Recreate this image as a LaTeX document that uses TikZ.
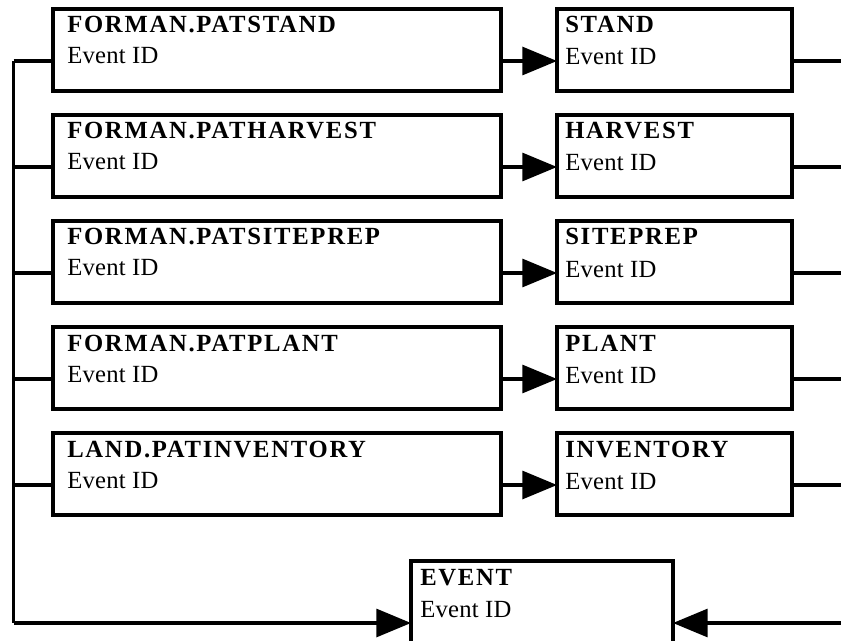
\documentclass[tikz,border=0pt]{standalone}
\usepackage{fontspec}
\setmainfont{Liberation Serif}
\usetikzlibrary{arrows.meta,calc}

\begin{document}
\begin{tikzpicture}[x=0.75pt,y=-0.75pt,
  box/.style={draw,line width=2.3pt,rectangle,inner sep=0pt,outer sep=0pt,anchor=north west},
  wire/.style={line width=2.3pt},
  arr/.style={wire,-{Triangle[length=26pt,width=21pt]}},
  ttl/.style={anchor=base west,inner sep=0pt,
    font={\fontsize{18.5}{21}\selectfont\bfseries\addfontfeatures{LetterSpace=7}}},
  sub/.style={anchor=base west,inner sep=0pt,
    font={\fontsize{18.5}{21}\selectfont\addfontfeatures{LetterSpace=1}}}]
\useasboundingbox (0,0) rectangle (841,641);
\clip (0,0) rectangle (841,641);

% source tables (left) and event tables (right), one row each
\foreach \i/\top/\lname/\rname in {
    1/9/FORMAN.PATSTAND/STAND,
    2/115/FORMAN.PATHARVEST/HARVEST,
    3/221/FORMAN.PATSITEPREP/SITEPREP,
    4/327/FORMAN.PATPLANT/PLANT,
    5/433/LAND.PATINVENTORY/INVENTORY} {
  \node[box,minimum width=448*0.75pt,minimum height=82*0.75pt] (l\i) at (53,\top) {};
  \node[box,minimum width=235*0.75pt,minimum height=82*0.75pt] (r\i) at (557,\top) {};
  \node[ttl] (lt\i) at ($(l\i.north west)+(14,24)$) {\lname};
  \node[sub] (ls\i) at ($(l\i.north west)+(14,55)$) {Event ID};
  \node[ttl] (rt\i) at ($(r\i.north west)+(8,24)$) {\rname};
  \node[sub] (rs\i) at ($(r\i.north west)+(8,56)$) {Event ID};
  \coordinate (t\i) at (13.5,\top+52);
  \coordinate (e\i) at (850,\top+52);
  \draw[wire] (t\i) -- (t\i -| l\i.west);
  \draw[arr] (l\i.east |- t\i) -- (r\i.west |- t\i);
  \draw[wire] (r\i.east |- t\i) -- (e\i);
}

% shared EVENT table
\node[box,minimum width=262*0.75pt,minimum height=100*0.75pt] (ev) at (411,561) {};
\node[ttl] (evt) at ($(ev.north west)+(9,24)$) {EVENT};
\node[sub] (evs) at ($(ev.north west)+(9,56)$) {Event ID};

\coordinate (bl) at (13.5,623);
\coordinate (br) at (850,623);
\draw[wire] (t1) -- (bl);
\draw[arr] (bl) -- (ev.west |- bl);
\draw[arr] (br) -- (ev.east |- br);
\end{tikzpicture}
\end{document}
